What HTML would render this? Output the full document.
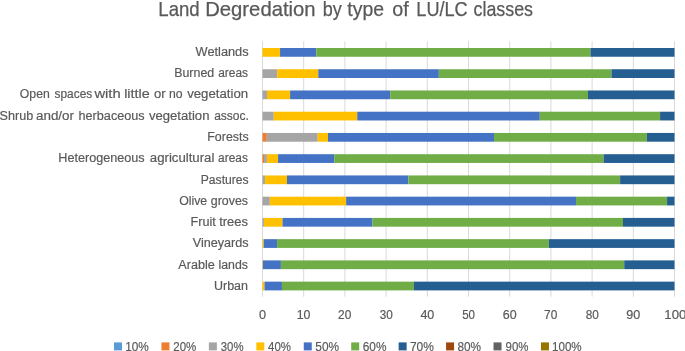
<!DOCTYPE html>
<html><head><meta charset="utf-8"><title>Land Degredation by type of LU/LC classes</title>
<style>
html,body{margin:0;padding:0;background:#fff;}
body{width:685px;height:351px;overflow:hidden;}
svg{display:block;will-change:transform;}
text{font-family:"Liberation Sans",sans-serif;fill:#595959;stroke:#595959;}
</style></head><body>
<svg width="685" height="351" viewBox="0 0 685 351">
<rect width="685" height="351" fill="#fff"/>
<rect x="262.00" y="41.3" width="1" height="255.40" fill="#D9D9D9"/>
<rect x="303.20" y="41.3" width="1" height="255.40" fill="#D9D9D9"/>
<rect x="344.40" y="41.3" width="1" height="255.40" fill="#D9D9D9"/>
<rect x="385.60" y="41.3" width="1" height="255.40" fill="#D9D9D9"/>
<rect x="426.80" y="41.3" width="1" height="255.40" fill="#D9D9D9"/>
<rect x="468.00" y="41.3" width="1" height="255.40" fill="#D9D9D9"/>
<rect x="509.20" y="41.3" width="1" height="255.40" fill="#D9D9D9"/>
<rect x="550.40" y="41.3" width="1" height="255.40" fill="#D9D9D9"/>
<rect x="591.60" y="41.3" width="1" height="255.40" fill="#D9D9D9"/>
<rect x="632.80" y="41.3" width="1" height="255.40" fill="#D9D9D9"/>
<rect x="674.00" y="41.3" width="1" height="255.40" fill="#D9D9D9"/>
<rect x="262.50" y="48.00" width="17.55" height="8.75" fill="#FFC000"/>
<rect x="280.05" y="48.00" width="36.21" height="8.75" fill="#4472C4"/>
<rect x="316.27" y="48.00" width="274.19" height="8.75" fill="#70AD47"/>
<rect x="590.45" y="48.00" width="84.05" height="8.75" fill="#255E91"/>
<rect x="262.50" y="69.24" width="14.71" height="8.75" fill="#A5A5A5"/>
<rect x="277.21" y="69.24" width="41.08" height="8.75" fill="#FFC000"/>
<rect x="318.28" y="69.24" width="120.55" height="8.75" fill="#4472C4"/>
<rect x="438.84" y="69.24" width="172.63" height="8.75" fill="#70AD47"/>
<rect x="611.46" y="69.24" width="63.04" height="8.75" fill="#255E91"/>
<rect x="262.50" y="90.48" width="4.49" height="8.75" fill="#A5A5A5"/>
<rect x="266.99" y="90.48" width="23.11" height="8.75" fill="#FFC000"/>
<rect x="290.10" y="90.48" width="100.12" height="8.75" fill="#4472C4"/>
<rect x="390.22" y="90.48" width="197.76" height="8.75" fill="#70AD47"/>
<rect x="587.98" y="90.48" width="86.52" height="8.75" fill="#255E91"/>
<rect x="262.50" y="111.72" width="11.25" height="8.75" fill="#A5A5A5"/>
<rect x="273.75" y="111.72" width="83.51" height="8.75" fill="#FFC000"/>
<rect x="357.26" y="111.72" width="182.52" height="8.75" fill="#4472C4"/>
<rect x="539.78" y="111.72" width="120.30" height="8.75" fill="#70AD47"/>
<rect x="660.08" y="111.72" width="14.42" height="8.75" fill="#255E91"/>
<rect x="262.50" y="132.96" width="4.28" height="8.75" fill="#ED7D31"/>
<rect x="266.78" y="132.96" width="50.92" height="8.75" fill="#A5A5A5"/>
<rect x="317.71" y="132.96" width="10.30" height="8.75" fill="#FFC000"/>
<rect x="328.01" y="132.96" width="166.04" height="8.75" fill="#4472C4"/>
<rect x="494.04" y="132.96" width="152.85" height="8.75" fill="#70AD47"/>
<rect x="646.90" y="132.96" width="27.60" height="8.75" fill="#255E91"/>
<rect x="262.50" y="154.20" width="1.52" height="8.75" fill="#ED7D31"/>
<rect x="264.02" y="154.20" width="2.88" height="8.75" fill="#A5A5A5"/>
<rect x="266.91" y="154.20" width="11.17" height="8.75" fill="#FFC000"/>
<rect x="278.07" y="154.20" width="56.11" height="8.75" fill="#4472C4"/>
<rect x="334.19" y="154.20" width="269.45" height="8.75" fill="#70AD47"/>
<rect x="603.64" y="154.20" width="70.86" height="8.75" fill="#255E91"/>
<rect x="262.50" y="175.44" width="2.47" height="8.75" fill="#A5A5A5"/>
<rect x="264.97" y="175.44" width="22.04" height="8.75" fill="#FFC000"/>
<rect x="287.01" y="175.44" width="121.33" height="8.75" fill="#4472C4"/>
<rect x="408.35" y="175.44" width="211.77" height="8.75" fill="#70AD47"/>
<rect x="620.12" y="175.44" width="54.38" height="8.75" fill="#255E91"/>
<rect x="262.50" y="196.68" width="7.33" height="8.75" fill="#A5A5A5"/>
<rect x="269.83" y="196.68" width="76.30" height="8.75" fill="#FFC000"/>
<rect x="346.14" y="196.68" width="229.90" height="8.75" fill="#4472C4"/>
<rect x="576.03" y="196.68" width="91.05" height="8.75" fill="#70AD47"/>
<rect x="667.08" y="196.68" width="7.42" height="8.75" fill="#255E91"/>
<rect x="262.50" y="217.92" width="1.44" height="8.75" fill="#A5A5A5"/>
<rect x="263.94" y="217.92" width="18.58" height="8.75" fill="#FFC000"/>
<rect x="282.52" y="217.92" width="89.98" height="8.75" fill="#4472C4"/>
<rect x="372.50" y="217.92" width="250.50" height="8.75" fill="#70AD47"/>
<rect x="623.00" y="217.92" width="51.50" height="8.75" fill="#255E91"/>
<rect x="262.50" y="239.16" width="1.24" height="8.75" fill="#FFC000"/>
<rect x="263.74" y="239.16" width="13.35" height="8.75" fill="#4472C4"/>
<rect x="277.08" y="239.16" width="271.76" height="8.75" fill="#70AD47"/>
<rect x="548.84" y="239.16" width="125.66" height="8.75" fill="#255E91"/>
<rect x="262.50" y="260.40" width="0.41" height="8.75" fill="#FFC000"/>
<rect x="262.91" y="260.40" width="18.00" height="8.75" fill="#4472C4"/>
<rect x="280.92" y="260.40" width="343.32" height="8.75" fill="#70AD47"/>
<rect x="624.24" y="260.40" width="50.26" height="8.75" fill="#255E91"/>
<rect x="262.50" y="281.64" width="2.06" height="8.75" fill="#FFC000"/>
<rect x="264.56" y="281.64" width="17.39" height="8.75" fill="#4472C4"/>
<rect x="281.95" y="281.64" width="131.96" height="8.75" fill="#70AD47"/>
<rect x="413.91" y="281.64" width="260.59" height="8.75" fill="#255E91"/>
<rect x="114.00" y="342.4" width="8" height="8" fill="#5B9BD5"/>
<rect x="161.44" y="342.4" width="8" height="8" fill="#ED7D31"/>
<rect x="208.88" y="342.4" width="8" height="8" fill="#A5A5A5"/>
<rect x="256.32" y="342.4" width="8" height="8" fill="#FFC000"/>
<rect x="303.76" y="342.4" width="8" height="8" fill="#4472C4"/>
<rect x="351.20" y="342.4" width="8" height="8" fill="#70AD47"/>
<rect x="398.64" y="342.4" width="8" height="8" fill="#255E91"/>
<rect x="446.08" y="342.4" width="8" height="8" fill="#9E480E"/>
<rect x="493.52" y="342.4" width="8" height="8" fill="#636363"/>
<rect x="540.96" y="342.4" width="8" height="8" fill="#997300"/>
<text x="158.34" y="15.65" font-size="20.4" stroke-width="0.25" textLength="41.39" lengthAdjust="spacingAndGlyphs">Land</text>
<text x="205.18" y="15.65" font-size="20.4" stroke-width="0.25" textLength="110.45" lengthAdjust="spacingAndGlyphs">Degredation</text>
<text x="322.71" y="15.65" font-size="20.4" stroke-width="0.25" textLength="19.04" lengthAdjust="spacingAndGlyphs">by</text>
<text x="347.34" y="15.65" font-size="20.4" stroke-width="0.25" textLength="36.72" lengthAdjust="spacingAndGlyphs">type</text>
<text x="392.27" y="15.65" font-size="20.4" stroke-width="0.25" textLength="16.50" lengthAdjust="spacingAndGlyphs">of</text>
<text x="416.33" y="15.65" font-size="20.4" stroke-width="0.25" textLength="51.36" lengthAdjust="spacingAndGlyphs">LU/LC</text>
<text x="473.57" y="15.65" font-size="20.4" stroke-width="0.25" textLength="59.48" lengthAdjust="spacingAndGlyphs">classes</text>
<text x="195.55" y="55.85" font-size="12.3" stroke-width="0.18" textLength="53.09" lengthAdjust="spacingAndGlyphs">Wetlands</text>
<text x="174.17" y="77.14" font-size="12.3" stroke-width="0.18" textLength="40.05" lengthAdjust="spacingAndGlyphs">Burned</text>
<text x="218.17" y="77.14" font-size="12.3" stroke-width="0.18" textLength="29.83" lengthAdjust="spacingAndGlyphs">areas</text>
<text x="19.86" y="98.42" font-size="12.3" stroke-width="0.18" textLength="29.92" lengthAdjust="spacingAndGlyphs">Open</text>
<text x="54.55" y="98.42" font-size="12.3" stroke-width="0.18" textLength="37.66" lengthAdjust="spacingAndGlyphs">spaces</text>
<text x="94.41" y="98.42" font-size="12.3" stroke-width="0.18" textLength="26.29" lengthAdjust="spacingAndGlyphs">with</text>
<text x="124.19" y="98.42" font-size="12.3" stroke-width="0.18" textLength="25.51" lengthAdjust="spacingAndGlyphs">little</text>
<text x="154.07" y="98.42" font-size="12.3" stroke-width="0.18" textLength="11.62" lengthAdjust="spacingAndGlyphs">or</text>
<text x="169.09" y="98.42" font-size="12.3" stroke-width="0.18" textLength="13.57" lengthAdjust="spacingAndGlyphs">no</text>
<text x="187.18" y="98.42" font-size="12.3" stroke-width="0.18" textLength="60.95" lengthAdjust="spacingAndGlyphs">vegetation</text>
<text x="-0.46" y="119.71" font-size="12.3" stroke-width="0.18" textLength="33.60" lengthAdjust="spacingAndGlyphs">Shrub</text>
<text x="36.00" y="119.71" font-size="12.3" stroke-width="0.18" textLength="38.00" lengthAdjust="spacingAndGlyphs">and/or</text>
<text x="78.57" y="119.71" font-size="12.3" stroke-width="0.18" textLength="66.07" lengthAdjust="spacingAndGlyphs">herbaceous</text>
<text x="148.96" y="119.71" font-size="12.3" stroke-width="0.18" textLength="60.47" lengthAdjust="spacingAndGlyphs">vegetation</text>
<text x="214.14" y="119.71" font-size="12.3" stroke-width="0.18" textLength="34.72" lengthAdjust="spacingAndGlyphs">assoc.</text>
<text x="207.31" y="140.99" font-size="12.3" stroke-width="0.18" textLength="41.36" lengthAdjust="spacingAndGlyphs">Forests</text>
<text x="58.27" y="162.28" font-size="12.3" stroke-width="0.18" textLength="86.35" lengthAdjust="spacingAndGlyphs">Heterogeneous</text>
<text x="149.79" y="162.28" font-size="12.3" stroke-width="0.18" textLength="64.63" lengthAdjust="spacingAndGlyphs">agricultural</text>
<text x="218.12" y="162.28" font-size="12.3" stroke-width="0.18" textLength="29.71" lengthAdjust="spacingAndGlyphs">areas</text>
<text x="200.76" y="183.57" font-size="12.3" stroke-width="0.18" textLength="47.90" lengthAdjust="spacingAndGlyphs">Pastures</text>
<text x="179.17" y="204.85" font-size="12.3" stroke-width="0.18" textLength="28.07" lengthAdjust="spacingAndGlyphs">Olive</text>
<text x="210.78" y="204.85" font-size="12.3" stroke-width="0.18" textLength="37.22" lengthAdjust="spacingAndGlyphs">groves</text>
<text x="190.54" y="226.14" font-size="12.3" stroke-width="0.18" textLength="25.28" lengthAdjust="spacingAndGlyphs">Fruit</text>
<text x="219.17" y="226.14" font-size="12.3" stroke-width="0.18" textLength="28.83" lengthAdjust="spacingAndGlyphs">trees</text>
<text x="192.75" y="247.42" font-size="12.3" stroke-width="0.18" textLength="55.89" lengthAdjust="spacingAndGlyphs">Vineyards</text>
<text x="178.35" y="268.71" font-size="12.3" stroke-width="0.18" textLength="36.50" lengthAdjust="spacingAndGlyphs">Arable</text>
<text x="218.54" y="268.71" font-size="12.3" stroke-width="0.18" textLength="29.46" lengthAdjust="spacingAndGlyphs">lands</text>
<text x="214.00" y="290.00" font-size="12.3" stroke-width="0.18" textLength="34.00" lengthAdjust="spacingAndGlyphs">Urban</text>
<text x="259.11" y="319.00" font-size="12" stroke-width="0.18" textLength="7.07" lengthAdjust="spacingAndGlyphs">0</text>
<text x="296.76" y="319.00" font-size="12" stroke-width="0.18" textLength="13.76" lengthAdjust="spacingAndGlyphs">10</text>
<text x="338.09" y="319.00" font-size="12" stroke-width="0.18" textLength="13.24" lengthAdjust="spacingAndGlyphs">20</text>
<text x="379.73" y="319.00" font-size="12" stroke-width="0.18" textLength="13.09" lengthAdjust="spacingAndGlyphs">30</text>
<text x="420.42" y="319.00" font-size="12" stroke-width="0.18" textLength="13.93" lengthAdjust="spacingAndGlyphs">40</text>
<text x="462.13" y="319.00" font-size="12" stroke-width="0.18" textLength="12.84" lengthAdjust="spacingAndGlyphs">50</text>
<text x="502.72" y="319.00" font-size="12" stroke-width="0.18" textLength="13.84" lengthAdjust="spacingAndGlyphs">60</text>
<text x="544.09" y="319.00" font-size="12" stroke-width="0.18" textLength="13.24" lengthAdjust="spacingAndGlyphs">70</text>
<text x="585.70" y="319.00" font-size="12" stroke-width="0.18" textLength="13.16" lengthAdjust="spacingAndGlyphs">80</text>
<text x="626.35" y="319.00" font-size="12" stroke-width="0.18" textLength="14.01" lengthAdjust="spacingAndGlyphs">90</text>
<text x="664.37" y="319.00" font-size="12" stroke-width="0.18" textLength="22.00" lengthAdjust="spacingAndGlyphs">100</text>
<text x="125.18" y="350.50" font-size="13" stroke-width="0.18" textLength="23.69" lengthAdjust="spacingAndGlyphs">10%</text>
<text x="173.30" y="350.50" font-size="13" stroke-width="0.18" textLength="23.01" lengthAdjust="spacingAndGlyphs">20%</text>
<text x="220.72" y="350.50" font-size="13" stroke-width="0.18" textLength="22.79" lengthAdjust="spacingAndGlyphs">30%</text>
<text x="268.06" y="350.50" font-size="13" stroke-width="0.18" textLength="22.88" lengthAdjust="spacingAndGlyphs">40%</text>
<text x="315.34" y="350.50" font-size="13" stroke-width="0.18" textLength="23.83" lengthAdjust="spacingAndGlyphs">50%</text>
<text x="362.76" y="350.50" font-size="13" stroke-width="0.18" textLength="23.74" lengthAdjust="spacingAndGlyphs">60%</text>
<text x="409.95" y="350.50" font-size="13" stroke-width="0.18" textLength="23.92" lengthAdjust="spacingAndGlyphs">70%</text>
<text x="457.43" y="350.50" font-size="13" stroke-width="0.18" textLength="23.69" lengthAdjust="spacingAndGlyphs">80%</text>
<text x="505.59" y="350.50" font-size="13" stroke-width="0.18" textLength="22.92" lengthAdjust="spacingAndGlyphs">90%</text>
<text x="552.03" y="350.50" font-size="13" stroke-width="0.18" textLength="29.67" lengthAdjust="spacingAndGlyphs">100%</text>
</svg>
</body></html>
